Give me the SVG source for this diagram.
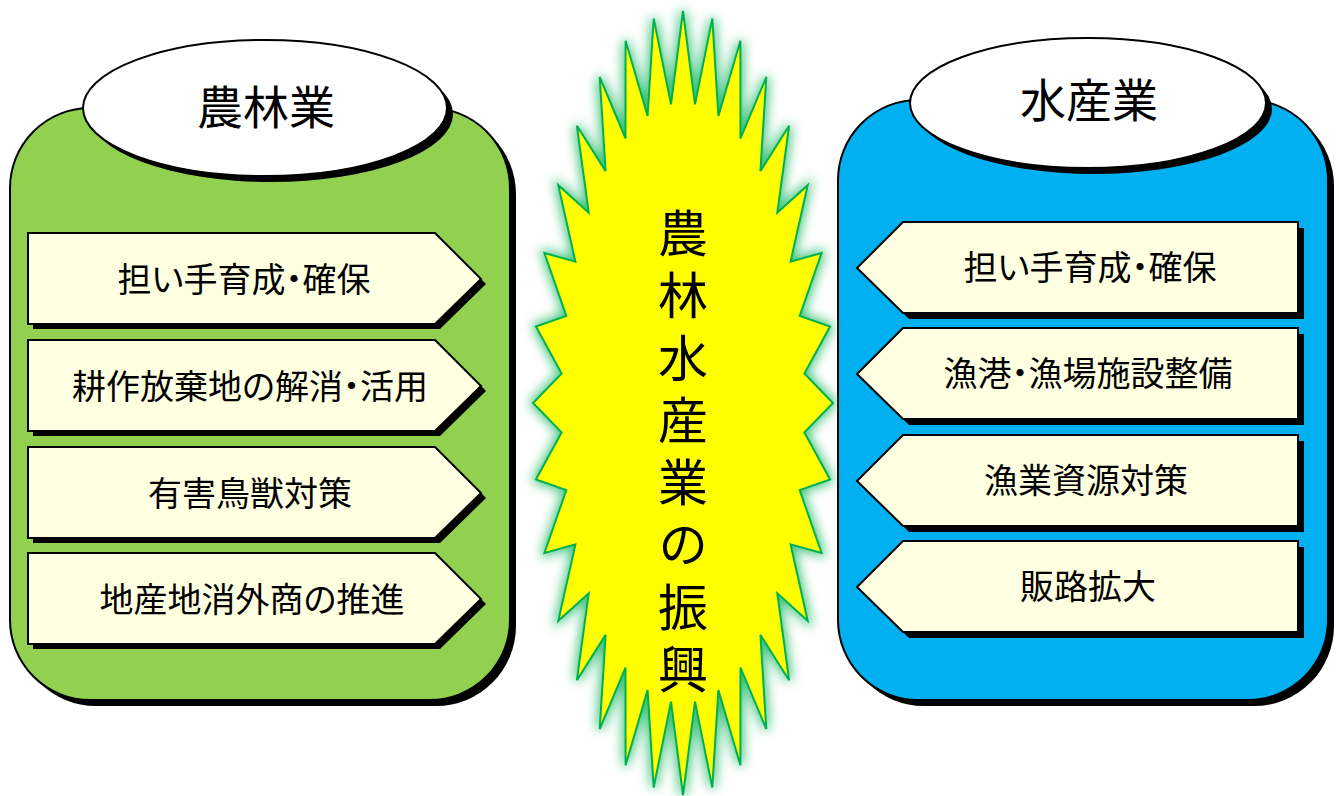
<svg xmlns="http://www.w3.org/2000/svg" width="1339" height="796" viewBox="0 0 1339 796">
<defs>
<style>
.t{font-family:"Noto Sans CJK JP","Noto Sans CJK SC",sans-serif;fill:#000;text-anchor:middle}
.p{font-feature-settings:"palt"}
.box{fill:#FFFFE1;stroke:#000;stroke-width:2}
.sh{fill:#000}
.ell{fill:#fff;stroke:#000;stroke-width:2}
</style>
<filter id="glow" x="-20%" y="-10%" width="140%" height="120%">
<feGaussianBlur stdDeviation="6"/>
</filter>
<path id="lbox" d="M28,0 H435 L481,46 L435,91 H28 Z"/>
<path id="rbox" d="M903,0 H1298 V91 H903 L857,46 Z"/>
<polygon id="star" points="683,11 695,104.4 712.3,18.5 718.4,115.9 740.4,40.8 740.5,138.4 766.3,77 760.4,171.1 789.1,125.8 777.3,212.7 807.7,185.2 790.6,261.6 821.6,253 799.7,315.9 830.1,326.5 804.4,373.6 833,403 804.4,432.4 830.1,479.5 799.7,490.1 821.6,553 790.6,544.4 807.7,620.8 777.3,593.3 789.1,680.2 760.4,634.9 766.3,729 740.5,667.6 740.4,765.2 718.4,690.1 712.3,787.5 695,701.6 683,795 671,701.6 653.7,787.5 647.6,690.1 625.6,765.2 625.5,667.6 599.7,729 605.6,634.9 576.9,680.2 588.7,593.3 558.3,620.8 575.4,544.4 544.4,553 566.3,490.1 535.9,479.5 561.6,432.4 533,403 561.6,373.6 535.9,326.5 566.3,315.9 544.4,253 575.4,261.6 558.3,185.2 588.7,212.7 576.9,125.8 605.6,171.1 599.7,77 625.5,138.4 625.6,40.8 647.6,115.9 653.7,18.5 671,104.4"/>
</defs>
<rect width="1339" height="796" fill="#fff"/>

<g id="agri">
<rect class="sh" x="16" y="114" width="500" height="592" rx="80" ry="80"/>
<rect x="10" y="108" width="500" height="592" rx="80" ry="80" fill="#92D050" stroke="#000" stroke-width="2"/>
<ellipse class="sh" cx="271" cy="114" rx="182" ry="68"/>
<ellipse class="ell" cx="265" cy="108" rx="182" ry="68"/>
<text class="t" x="266" y="124" font-size="46">農林業</text>
</g>

<g id="fish">
<rect class="sh" x="844" y="106" width="490" height="600" rx="80" ry="80"/>
<rect x="838" y="100" width="490" height="600" rx="80" ry="80" fill="#00B0F0" stroke="#000" stroke-width="2"/>
<ellipse class="sh" cx="1094" cy="109" rx="178" ry="65"/>
<ellipse class="ell" cx="1088" cy="103" rx="178" ry="65"/>
<text class="t" x="1089" y="117" font-size="46">水産業</text>
</g>

<g id="agri-items">
<g id="a1" transform="translate(0,233)"><use href="#lbox" class="sh" transform="translate(5,5)"/><use href="#lbox" class="box"/><text class="t p" x="244" y="59" font-size="34">担い手育成・確保</text></g>
<g id="a2" transform="translate(0,340)"><use href="#lbox" class="sh" transform="translate(5,5)"/><use href="#lbox" class="box"/><text class="t p" x="250" y="59" font-size="34">耕作放棄地の解消・活用</text></g>
<g id="a3" transform="translate(0,447)"><use href="#lbox" class="sh" transform="translate(5,5)"/><use href="#lbox" class="box"/><text class="t p" x="250" y="59" font-size="34">有害鳥獣対策</text></g>
<g id="a4" transform="translate(0,553)"><use href="#lbox" class="sh" transform="translate(5,5)"/><use href="#lbox" class="box"/><text class="t p" x="252" y="59" font-size="34">地産地消外商の推進</text></g>
</g>

<g id="fish-items">
<g id="f1" transform="translate(0,222)"><use href="#rbox" class="sh" transform="translate(6,6)"/><use href="#rbox" class="box"/><text class="t p" x="1090" y="58" font-size="34">担い手育成・確保</text></g>
<g id="f2" transform="translate(0,328)"><use href="#rbox" class="sh" transform="translate(6,6)"/><use href="#rbox" class="box"/><text class="t p" x="1088" y="58" font-size="34">漁港・漁場施設整備</text></g>
<g id="f3" transform="translate(0,435)"><use href="#rbox" class="sh" transform="translate(6,6)"/><use href="#rbox" class="box"/><text class="t p" x="1086" y="58" font-size="34">漁業資源対策</text></g>
<g id="f4" transform="translate(0,541)"><use href="#rbox" class="sh" transform="translate(6,6)"/><use href="#rbox" class="box"/><text class="t p" x="1088" y="58" font-size="34">販路拡大</text></g>
</g>

<g id="burst">
<use href="#star" fill="#00B050" stroke="#00B050" stroke-width="6" opacity="0.75" filter="url(#glow)"/>
<use href="#star" fill="#FFFF00" stroke="#00B050" stroke-width="2"/>
<text x="683" y="208" font-family="Noto Sans CJK JP, Noto Sans CJK SC, sans-serif" font-size="50" writing-mode="vertical-rl" letter-spacing="12.3" text-anchor="start" fill="#000">農林水産業の振興</text>
</g>
</svg>
